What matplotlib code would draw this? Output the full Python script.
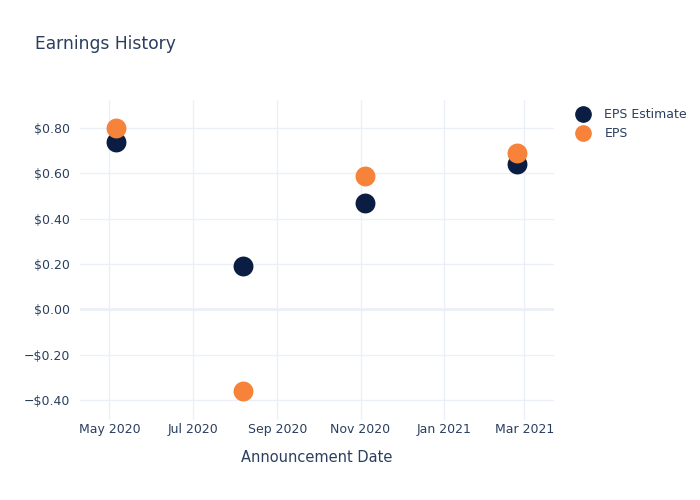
import matplotlib
matplotlib.use("Agg")
import matplotlib.pyplot as plt
import matplotlib.dates as mdates
from matplotlib.ticker import FuncFormatter
from matplotlib.lines import Line2D
import numpy as np
import datetime as dt

dates = ["2020-05-06", "2020-08-07", "2020-11-04", "2021-02-24"]
eps_estimate = [0.74, 0.19, 0.47, 0.64]
eps_actual = [0.80, -0.36, 0.59, 0.69]
y_ticks = [-0.4, -0.2, 0.0, 0.2, 0.4, 0.6, 0.8]
x_ticks = ["2020-05-01", "2020-07-01", "2020-09-01", "2020-11-01", "2021-01-01", "2021-03-01"]

TEXT = "#2a3f5f"
GRID = "#EBF0F8"
NAVY = "#0B1D42"
ORANGE = "#F7823A"

xd = [dt.datetime.fromisoformat(d) for d in dates]

fig = plt.figure(figsize=(7, 5), dpi=100)
ax = fig.add_axes([80/700, 80/500, 474/700, 320/500])

ax.scatter(xd, eps_estimate, s=205, color=NAVY, zorder=3, linewidths=0)
ax.scatter(xd, eps_actual, s=205, color=ORANGE, zorder=4, linewidths=0)

ax.set_xlim(dt.datetime(2020, 4, 9, 12), dt.datetime(2021, 3, 22, 18))
ax.set_ylim(-0.488, 0.924)

ax.set_yticks(y_ticks)
ax.yaxis.set_major_formatter(FuncFormatter(lambda v, p: ("\u2212$%.2f" % abs(v)) if v < -1e-9 else "$%.2f" % abs(v)))
ax.set_xticks([dt.datetime.fromisoformat(d) for d in x_ticks])
ax.xaxis.set_major_formatter(mdates.DateFormatter("%b %Y"))

ax.grid(True, color=GRID, linewidth=1)
ax.axhline(0, color=GRID, linewidth=2, zorder=1)
ax.set_axisbelow(True)
for s in ax.spines.values():
    s.set_visible(False)
ax.tick_params(axis="both", length=0, labelsize=9, colors=TEXT, pad=7)
ax.tick_params(axis="x", pad=2)

ax.set_xlabel("Announcement Date", fontsize=10.5, color=TEXT, labelpad=10.5)

fig.text(35/700, 1 - 44/500, "Earnings History", fontsize=12.3, color=TEXT, va="center", ha="left")

handles = [
    Line2D([0], [0], marker="o", linestyle="", markersize=11, color=NAVY, label="EPS Estimate"),
    Line2D([0], [0], marker="o", linestyle="", markersize=11, color=ORANGE, label="EPS"),
]
fig.legend(handles=handles, loc="upper left", bbox_to_anchor=(569/700, 1 - 103/500),
           frameon=False, fontsize=9, labelcolor=TEXT, handletextpad=0.92,
           labelspacing=0.51, borderaxespad=0, handlelength=1.5)

fig.savefig("out.png", dpi=100)
